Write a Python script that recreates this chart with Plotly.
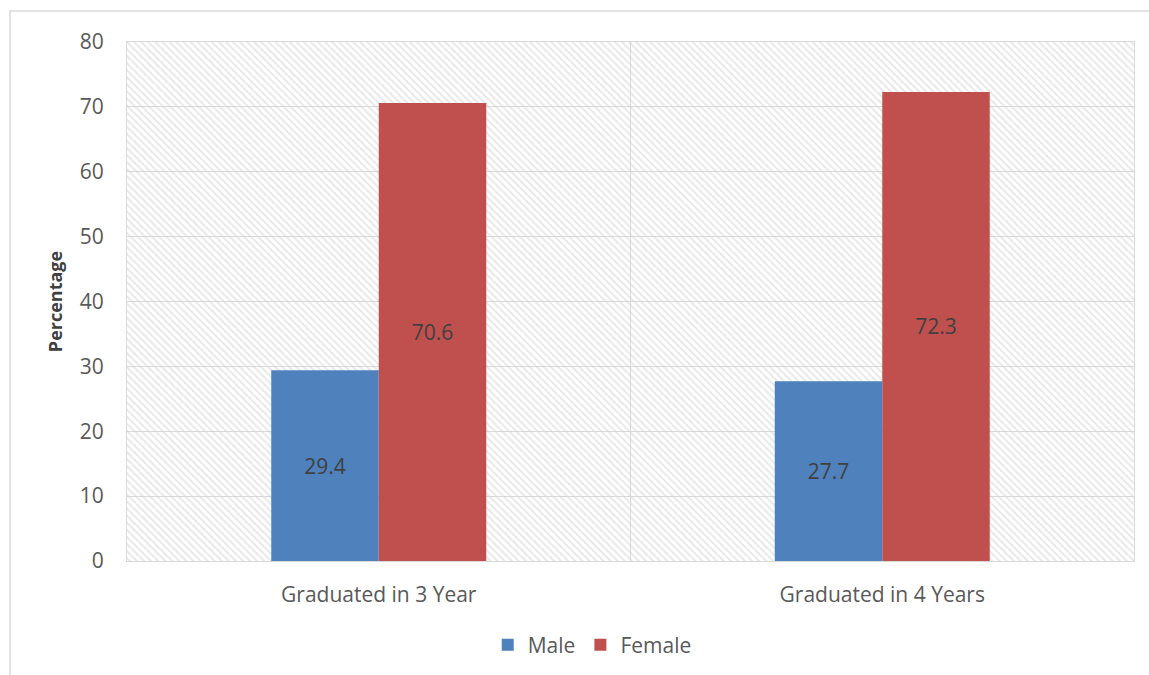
import plotly.graph_objects as go

categories = ["Graduated in 3 Year", "Graduated in 4 Years"]
male = [29.4, 27.7]
female = [70.6, 72.3]
y_ticks = [0, 10, 20, 30, 40, 50, 60, 70, 80]

FONT = "Open Sans"
GRID = "#d9d9d9"
TXT = "#595959"

fig = go.Figure()

# hatched plot-area background on the base axis
fig.add_trace(go.Bar(
    x=[0.5], y=[80], width=[1], xaxis="x", yaxis="y",
    marker=dict(color="rgba(0,0,0,0)", line=dict(width=0),
                pattern=dict(shape="\\", fgcolor="#d0d0d0", bgcolor="rgba(0,0,0,0)",
                             size=5, solidity=0.38)),
    showlegend=False, hoverinfo="skip",
))

fig.add_trace(go.Bar(
    name="Male", x=categories, y=male, xaxis="x2", yaxis="y",
    marker=dict(color="#4f81bd", line=dict(width=0)),
    text=[f"{v:.1f}" for v in male], textposition="inside", insidetextanchor="middle",
    textfont=dict(family=FONT, size=21, color="#404040"), textangle=0,
))
fig.add_trace(go.Bar(
    name="Female", x=categories, y=female, xaxis="x2", yaxis="y",
    marker=dict(color="#c0504d", line=dict(width=0)),
    text=[f"{v:.1f}" for v in female], textposition="inside", insidetextanchor="middle",
    textfont=dict(family=FONT, size=21, color="#404040"), textangle=0,
))

fig.update_layout(
    width=1149, height=675,
    margin=dict(l=127, r=15, t=42, b=114, autoexpand=False),
    paper_bgcolor="white", plot_bgcolor="white",
    font=dict(family=FONT, size=20, color=TXT),
    barmode="group", bargap=0.573, bargroupgap=0,
    xaxis=dict(range=[0, 1], tickvals=[0.5], showticklabels=False, showgrid=True,
               gridcolor=GRID, gridwidth=1, zeroline=False, showline=True, mirror=True,
               linecolor=GRID, linewidth=1, fixedrange=True, automargin=False),
    xaxis2=dict(overlaying="x", anchor="y", side="bottom", type="category",
                categoryorder="array", categoryarray=categories, range=[-0.5, 1.5],
                showgrid=False, zeroline=False, showline=False, automargin=False,
                tickfont=dict(family=FONT, size=21, color=TXT), ticks="",
                ticklabelstandoff=19),
    yaxis=dict(range=[0, 80], tickvals=y_ticks, showgrid=True, gridcolor=GRID, gridwidth=1,
               zeroline=False, showline=True, mirror=True, linecolor=GRID, linewidth=1,
               tickfont=dict(family=FONT, size=21, color=TXT), ticks="", automargin=False,
               ticklabelstandoff=18,
               title=dict(text="<b>Percentage</b>", font=dict(family=FONT, size=18, color="#404040"),
                          standoff=12)),
    legend=dict(orientation="h", x=0.462, xanchor="center", y=-0.162, yanchor="middle",
                font=dict(family=FONT, size=21, color=TXT), itemwidth=30,
                traceorder="normal"),
    shapes=[dict(type="rect", xref="paper", yref="paper",
                 x0=(10 - 127) / 1007, x1=(1160 - 127) / 1007,
                 y0=(561 - 690) / 519, y1=(561 - 11) / 519,
                 line=dict(color=GRID, width=1.5), fillcolor="rgba(0,0,0,0)", layer="below")],
)

fig.write_html("out.html")
